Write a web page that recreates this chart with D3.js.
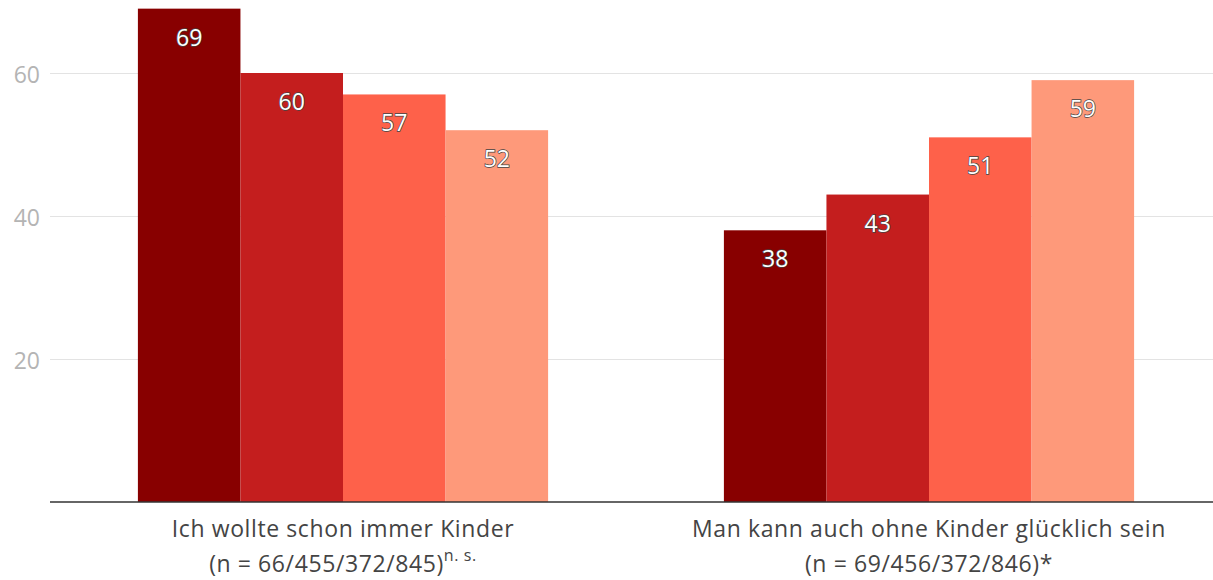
<!DOCTYPE html>
<html>
<head>
<meta charset="utf-8">
<script src="https://cdn.jsdelivr.net/npm/d3@7"></script>
<style>
  body { margin: 0; background: #fff; }
  svg { display: block; font-family: "Open Sans", Lato, sans-serif; }
</style>
</head>
<body>
<div id="chart"></div>
<script>
// data
var categories = ['Ich wollte schon immer Kinder', 'Man kann auch ohne Kinder glücklich sein'];
var nLabels = ['(n = 66/455/372/845)', '(n = 69/456/372/846)'];
var sigLabels = ['n. s.', '*'];
var series = ['g1', 'g2', 'g3', 'g4'];
var values = [
  [69, 60, 57, 52],
  [38, 43, 51, 59]
];
var yTicks = [20, 40, 60];
var colors = ['#880000', '#c41e1e', '#fe614a', '#fe997a'];

(function(d3) {
  'use strict';
  var width = 1213;
  var height = 580;
  var left = 50;
  var baseY = 502;

  var svg = d3.select('#chart')
    .append('svg')
    .attr('width', width)
    .attr('height', height);

  var y = d3.scaleLinear()
    .domain([0, 60])
    .range([baseY, 73]);

  var x0 = d3.scaleBand()
    .domain(categories)
    .range([left, 1222])
    .paddingInner(0.3)
    .paddingOuter(0.15);

  var x1 = d3.scaleBand()
    .domain(series)
    .range([0, x0.bandwidth()]);

  // gridlines + tick labels
  var grid = svg.append('g')
    .attr('transform', 'translate(' + left + ',0)')
    .call(d3.axisLeft(y).tickValues(yTicks).tickSize(-(width - left)).tickPadding(10));
  grid.select('.domain').remove();
  grid.selectAll('.tick line').attr('stroke', '#e3e3e3').attr('stroke-width', 1);
  grid.selectAll('.tick text')
    .attr('fill', '#b4b4b4')
    .attr('font-size', 23)
    .attr('dy', '0.42em')
    .attr('font-family', '"Open Sans", sans-serif');

  // bars
  var groups = svg.selectAll('.group')
    .data(categories)
    .enter()
    .append('g')
    .attr('class', 'group')
    .attr('transform', function(d) {
      return 'translate(' + x0(d) + ',0)';
    });

  groups.selectAll('rect')
    .data(function(d, i) {
      return values[i].map(function(v, j) { return { s: series[j], v: v, j: j }; });
    })
    .enter()
    .append('rect')
    .attr('x', function(d) { return x1(d.s); })
    .attr('width', x1.bandwidth())
    .attr('y', function(d) { return y(d.v); })
    .attr('height', function(d) { return baseY - y(d.v); })
    .attr('fill', function(d) { return colors[d.j]; });

  groups.selectAll('.val')
    .data(function(d, i) {
      return values[i].map(function(v, j) { return { s: series[j], v: v, j: j }; });
    })
    .enter()
    .append('text')
    .attr('class', 'val')
    .attr('x', function(d) { return x1(d.s) + x1.bandwidth() / 2; })
    .attr('y', function(d) { return y(d.v) + 37; })
    .attr('text-anchor', 'middle')
    .attr('font-size', 23)
    .attr('fill', '#fff')
    .attr('stroke', '#444')
    .attr('stroke-width', 1.4)
    .attr('paint-order', 'stroke')
    .text(function(d) { return d.v; });

  // baseline
  svg.append('line')
    .attr('x1', left)
    .attr('x2', width)
    .attr('y1', baseY)
    .attr('y2', baseY)
    .attr('stroke', '#333')
    .attr('stroke-width', 1.5);

  // category labels, two lines each
  svg.selectAll('.cat')
    .data(categories)
    .enter()
    .append('text')
    .attr('class', 'cat')
    .attr('text-anchor', 'middle')
    .attr('fill', '#444')
    .attr('font-size', 23)
    .attr('letter-spacing', 0.6)
    .attr('x', function(d) { return x0(d) + x0.bandwidth() / 2; })
    .attr('y', 537)
    .text(function(d) { return d; });

  var line2 = svg.selectAll('.cat2')
    .data(categories)
    .enter()
    .append('text')
    .attr('class', 'cat2')
    .attr('text-anchor', 'middle')
    .attr('fill', '#444')
    .attr('font-size', 23)
    .attr('letter-spacing', 0.6)
    .attr('x', function(d) { return x0(d) + x0.bandwidth() / 2; })
    .attr('y', 572);
  line2.append('tspan')
    .text(function(d, i) { return nLabels[i]; });
  line2.append('tspan')
    .attr('font-size', function(d, i) { return i === 0 ? 16 : 23; })
    .attr('dy', function(d, i) { return i === 0 ? -11 : 0; })
    .text(function(d, i) { return sigLabels[i]; });
})(window.d3);
</script>
</body>
</html>
